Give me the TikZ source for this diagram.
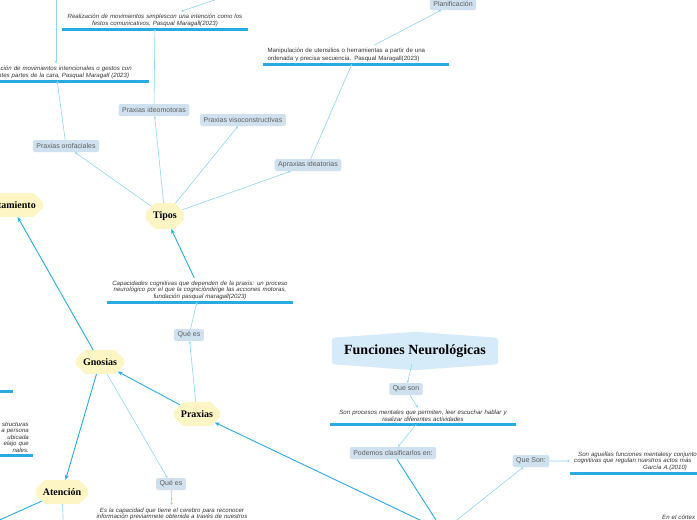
\documentclass[tikz,border=0pt]{standalone}
\usepackage{fontspec}
\setmainfont{Liberation Sans}
\newfontfamily\slabfont{Liberation Serif}
\usetikzlibrary{arrows.meta,shapes.misc,backgrounds}

\definecolor{linea}{HTML}{29ABE2}
\definecolor{lineaclara}{HTML}{90D4F4}
\definecolor{etiqueta}{HTML}{CFE1EE}
\definecolor{etiquetatexto}{HTML}{5E5E5E}
\definecolor{amarillo}{HTML}{FDF6C4}
\definecolor{centro}{HTML}{D5EBFA}
\definecolor{notatexto}{HTML}{333333}

\begin{document}
\begin{tikzpicture}[x=1pt, y=-1pt,
    etq/.style={rounded corners=2pt, fill=etiqueta, text=etiquetatexto, font=\fontsize{7}{8}\selectfont, inner xsep=3.5pt, inner ysep=0pt, minimum height=12pt},
    hexa/.style={chamfered rectangle, chamfered rectangle xsep=4pt, chamfered rectangle ysep=5pt, fill=amarillo, font=\slabfont\bfseries\fontsize{10}{12}\selectfont, minimum height=20pt, inner xsep=3pt},
    nota/.style={text width=177pt, align=center, inner xsep=4pt, inner ysep=2.5pt, text=notatexto, font=\itshape\fontsize{6.1}{6.5}\selectfont},
    barra/.style={line width=3pt, draw=linea},
    arr/.style={-{Stealth[length=5pt,width=4pt]}, draw=linea, line width=0.9pt},
    lnk/.style={-{Stealth[length=2.5pt,width=2.5pt]}, draw=lineaclara, line width=0.6pt}
]
\clip (0,0) rectangle (697,520);

% nodo central
\node[font=\slabfont\bfseries\fontsize{14}{16}\selectfont, minimum width=166pt, minimum height=26pt] (fn) at (415,351) {Funciones Neurológicas};
\begin{scope}[on background layer]
\fill[white] (0,0) rectangle (697,520);
\fill[centro, rounded corners=2pt] (fn.south west) -- (fn.north west) -- ([yshift=6pt]fn.north)
    -- (fn.north east) -- (fn.south east) -- ([yshift=-6pt]fn.south) -- cycle;
\end{scope}

\node[hexa]               (tipos)    at (165,216) {Tipos};
\node[hexa, text width=50pt, align=right, anchor=east] (comp) at (43,205) {tamiento};
\node[hexa]               (gnosias)  at (100,362) {Gnosias};
\node[hexa]               (praxias)  at (197,414) {Praxias};
\node[hexa]               (atencion) at (62,492)  {Atención};

\node[etq] (plan)    at (453,4)   {Planificación};
\node[etq] (ideo)    at (154,110) {Praxias ideomotoras};
\node[etq] (viso)    at (243,120) {Praxias visoconstructivas};
\node[etq] (orof)    at (66,146)  {Praxias orofaciales};
\node[etq] (aprax)   at (308,165) {Apraxias ideatorias};
\node[etq] (quees1)  at (189,335) {Qué es};
\node[etq] (quees2)  at (171,484) {Qué es};
\node[etq] (queson)  at (406,389) {Que son};
\node[etq] (podemos) at (393,453) {Podemos clasificarlos en:};
\node[etq] (queson2) at (531,461) {Que Son:};
\node[etq, minimum width=38pt] (abajo) at (604,526) {};

\node[nota, anchor=south] (t1) at (155,29) {Realización de movimientos simplescon una intención como los\\festos comunicativos, Pasqual Maragall(2023)};
\node[nota, anchor=south] (t2) at (56,81) {Realización de movimientos intencionales o gestos con\\diferentes partes de la cara, Pasqual Maragall (2023)};
\node[nota, anchor=south, align=left, font=\fontsize{6.1}{7.5}\selectfont] (t3) at (356,64) {Manipulación de utensilios o herramientas a partir de una\\ordenada y precisa secuencia. Pasqual Maragall(2023)};
\node[nota, anchor=south] (t4) at (200,302) {Capacidades cognitivas que dependen de la praxis: un proceso\\neurológico por el que la cogniciòndirige las acciones motoras,\\fundación pasqual maragall(2023)};
\node[nota, anchor=north] (t5) at (172,505) {Es la capacidad que tiene el cerebro para reconocer\\información previamnete obtenida a través de nuestros};
\node[nota, anchor=south] (t6) at (423,424) {Son procesos mentales que permiten, leer escuchar hablar y\\realizar diferentes actividades};
\node[nota, anchor=south west, align=left] (t7) at (570,473) {\hspace*{4pt}Son aguellas funciones mentalesy conjunto\\cognitivas que regulan nuestros actos más\\\hspace*{69pt}García A.(2010)};
\node[nota, anchor=south east, align=right] (t8) at (33,455) {structuras\\a persona\\ubicada\\elajo que\\nales.};
\node[nota, anchor=north west, align=left] (t9) at (658,512) {En el córtex};

\foreach \t in {t1,t2,t3,t4,t6,t7,t8}
    \draw[barra] (\t.south west) -- (\t.south east);
\draw[barra] (-20,391) -- (13,391);

\coordinate (hub)  at (443,531);
\coordinate (arr1) at (56,-20);
\coordinate (arr2) at (250,-12);
\coordinate (izq)  at (-25,531);
\coordinate (baj)  at (64,540);

\draw[arr] (hub)      -- (praxias);
\draw[arr] (praxias)  -- (gnosias);
\draw[arr] (gnosias)  -- (comp);
\draw[arr] (gnosias)  -- (atencion);
\draw[arr] (t4)       -- (tipos);
\draw[arr] (podemos)  -- (hub);
\draw[arr] (atencion) -- (izq);

\draw[lnk] (tipos)    -- (orof);
\draw[lnk] (tipos)    -- (ideo);
\draw[lnk] (tipos)    -- (viso);
\draw[lnk] (tipos)    -- (aprax);
\draw[lnk] (orof)     -- (t2);
\draw[lnk] (ideo)     -- (t1);
\draw[lnk] (aprax)    -- (t3);
\draw[lnk] (t3)       -- (plan);
\draw[lnk] (arr1)     -- (t2);
\draw[lnk] (arr2)     -- (t1);
\draw[lnk] (praxias)  -- (quees1);
\draw[lnk] (quees1)   -- (t4);
\draw[lnk] (gnosias)  -- (quees2);
\draw[lnk] (quees2)   -- (t5);
\draw[lnk] (fn)       -- (queson);
\draw[lnk] (queson)   -- (t6);
\draw[lnk] (t6)       -- (podemos);
\draw[lnk] (hub)      -- (queson2);
\draw[lnk] (queson2)  -- (t7);
\draw[lnk] (atencion) -- (baj);
\end{tikzpicture}
\end{document}
